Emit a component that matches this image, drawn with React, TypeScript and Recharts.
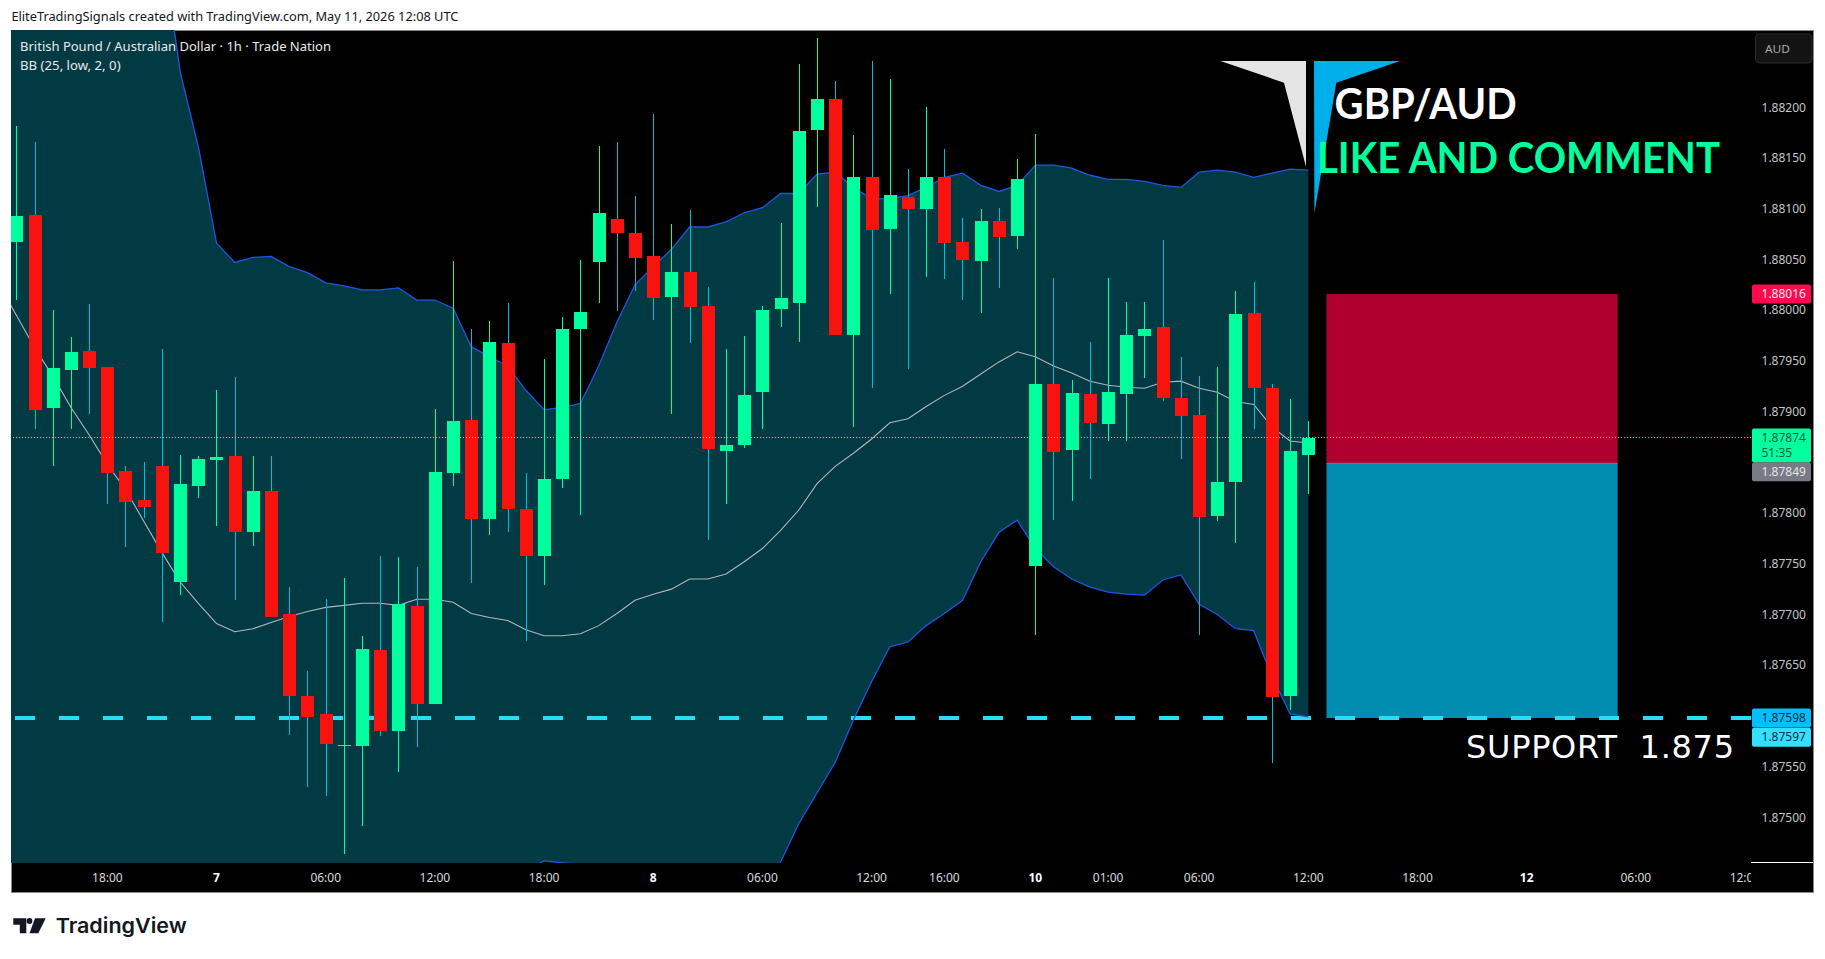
import React from "react";
import { ComposedChart, Area, Line, Bar, XAxis, YAxis, ReferenceArea, ReferenceLine } from "recharts";

// All prices below are in points of 0.00001
const highPts = [188182,188166,188000,187974,188006,187944,187846,187850,187962,187857,187856,187921,187934,187856,187856,187727,187644,187715,187736,187679,187758,187757,187747,187903,188048,187981,187989,188007,187839,187952,187993,188049,188162,188166,188113,188193,188085,188099,188023,187962,187975,188004,188086,188243,188268,188226,188173,188246,188228,188139,188200,188159,188091,188100,188101,188149,188174,188032,187931,187969,188032,188008,188008,188069,187954,187935,187944,188019,188028,187927,187912,187891];
const openPts = [188067,188094,187904,187941,187960,187944,187841,187813,187846,187732,187827,187852,187856,187781,187822,187700,187620,187602,187571,187570,187665,187585,187708,187612,187839,187892,187794,187968,187804,187758,187834,187981,188047,188090,188076,188053,188013,188038,188004,187861,187867,187919,188001,188007,188178,188208,187976,188131,188080,188112,188100,188131,188067,188048,188088,188073,187748,187927,187862,187917,187888,187917,187975,187983,187913,187897,187797,187831,187997,187923,187620,187857];
const closePts = [188093,187902,187943,187959,187943,187839,187811,187806,187761,187829,187853,187855,187781,187822,187698,187620,187599,187572,187571,187666,187585,187710,187612,187840,187891,187794,187969,187804,187758,187834,187981,187998,188096,188076,188051,188012,188038,188003,187863,187867,187916,188000,188012,188177,188208,187976,188131,188079,188114,188100,188131,188066,188049,188088,188072,188129,187927,187860,187918,187889,187919,187976,187981,187913,187896,187796,187831,187996,187923,187619,187861,187874];
const lowPts = [188010,187883,187846,187883,187898,187809,187767,187795,187693,187719,187815,187787,187714,187768,187698,187581,187530,187521,187464,187491,187580,187545,187569,187612,187827,187731,187778,187781,187674,187729,187825,187798,188007,187999,188019,187990,187898,187968,187773,187809,187864,187883,187983,187969,188102,187976,187885,187923,188016,187942,188033,188031,188010,187997,188022,188060,187680,187793,187812,187834,187871,187871,187933,187910,187853,187680,187792,187770,187883,187554,187606,187819];

// Bollinger bands start one bar before the first visible candle
const upperPts = [189700,189600,189500,189400,189300,189200,189100,189000,188800,188363,188235,188161,188066,188047,188052,188053,188043,188037,188027,188024,188020,188020,188022,188010,188010,188002,187964,187954,187945,187921,187902,187904,187908,187945,187988,188025,188043,188060,188082,188082,188087,188096,188101,188115,188115,188134,188136,188121,188110,188110,188113,188121,188131,188135,188123,188117,188123,188143,188143,188140,188133,188129,188129,188127,188123,188121,188136,188138,188136,188131,188135,188139,188138];
const middlePts = [188026,187995,187963,187935,187904,187877,187848,187823,187792,187761,187732,187711,187691,187683,187686,187692,187698,187703,187707,187709,187711,187711,187709,187715,187715,187712,187701,187697,187694,187685,187679,187679,187681,187689,187701,187714,187720,187725,187735,187735,187740,187752,187765,187783,187803,187829,187846,187859,187873,187889,187893,187905,187916,187925,187937,187949,187959,187954,187945,187938,187930,187926,187924,187923,187929,187930,187923,187919,187910,187907,187885,187871,187869];
const lowerPts = [186350,186390,186430,186470,186510,186550,186600,186650,186780,187160,187228,187261,187315,187319,187320,187330,187353,187369,187387,187393,187401,187402,187397,187420,187420,187422,187437,187439,187443,187448,187457,187455,187454,187435,187415,187403,187398,187391,187389,187389,187393,187408,187430,187456,187494,187524,187554,187596,187634,187668,187673,187689,187701,187714,187752,187781,187793,187765,187747,187735,187727,187722,187720,187719,187734,187739,187710,187700,187686,187684,187639,187602,187599];

const priceTicks = [1.882,1.8815,1.881,1.8805,1.88016,1.88,1.8795,1.879,1.87874,1.87849,1.878,1.8775,1.877,1.8765,1.87598,1.87597,1.8755,1.875];
const timeTicks = [5,11,17,23,29,35,41,47,51,56,60,65,71,77,83,89,95];
const timeLabels = ["18:00","7","06:00","12:00","18:00","8","06:00","12:00","16:00","10","01:00","06:00","12:00","18:00","12","06:00","12:00"];
const dayLabels = ["7","8","10","12"];

const riskTop = 1.88016, entry = 1.87849, supportLevel = 1.87598, lastPrice = 1.87874;
const positionStart = 72, positionEnd = 88;

const rows = upperPts.map((u, k) => {
  const i = k - 1;
  const has = i >= 0;
  return {
    x: i,
    upper: u / 1e5,
    middle: middlePts[k] / 1e5,
    lower: lowerPts[k] / 1e5,
    band: [lowerPts[k] / 1e5, u / 1e5],
    range: has ? [lowPts[i] / 1e5, highPts[i] / 1e5] : null,
    open: has ? openPts[i] / 1e5 : null,
    close: has ? closePts[i] / 1e5 : null,
  };
});

const FONT = "'Noto Sans', sans-serif";
const X_DOMAIN: [number, number] = [-0.297, 95.33];
const Y_DOMAIN: [number, number] = [1.87455, 1.882762];

const badges: Record<string, any> = {
  "1.88016": { fill: "#ff0a4f", color: "#ffe3ea", top: -9.5, h: 19, dy: 0 },
  "1.87874": { fill: "#00ff9d", color: "#0b5a44", top: -9.5, h: 34, dy: 0, extra: "51:35" },
  "1.87849": { fill: "#787b86", color: "#e3e4e8", top: -1, h: 19, dy: 8.7 },
  "1.87598": { fill: "#00bfff", color: "#05303f", top: -9.5, h: 19, dy: 0 },
  "1.87597": { fill: "#33e0ff", color: "#05303f", top: 8.7, h: 19, dy: 18.2 },
};

function PriceTick(props: any) {
  const { x, y, payload } = props;
  const v = payload.value as number;
  const label = v.toFixed(5);
  const b = badges[label];
  return (
    <g>
      {b && <rect x={x - 5} y={y + b.top} width={59} height={b.h} rx={2} fill={b.fill} />}
      <text x={x + 4.5} y={y + (b ? b.dy : 0)} dy={4.3} fontSize={12} fontFamily={FONT} fill={b ? b.color : "#c4c4c8"} textLength={44.5} lengthAdjust="spacingAndGlyphs">{label}</text>
      {b && b.extra && <text x={x + 4.5} y={y + 15} dy={4.3} fontSize={12} fontFamily={FONT} fill={b.color}>{b.extra}</text>}
    </g>
  );
}

function TimeTick(props: any) {
  const { x, y, payload } = props;
  const label = timeLabels[timeTicks.indexOf(payload.value)] ?? "";
  const bold = dayLabels.includes(label);
  const clip = payload.value === 95;
  return (
    <g>
      {clip && <clipPath id="timeClip"><rect x={x - 40} y={y - 10} width={46} height={40} /></clipPath>}
      <text x={x} y={878} dy={4.2} textAnchor="middle" fontSize={12} fontWeight={bold ? 700 : 400} fontFamily={FONT} fill={bold ? "#ffffff" : "#d8d8dc"} clipPath={clip ? "url(#timeClip)" : undefined}>{label}</text>
    </g>
  );
}

function Candle(props: any) {
  const { x, y, width, height, payload } = props;
  if (!payload || payload.range == null) return null;
  const [lo, hi] = payload.range;
  const perUnit = height / (hi - lo);
  const up = payload.close >= payload.open;
  const top = y + (hi - Math.max(payload.open, payload.close)) * perUnit;
  const bodyH = Math.max(1, Math.abs(payload.close - payload.open) * perUnit);
  const body = up ? "#00ff9d" : "#f8130e";
  const wick = up ? "#00ff9d" : "#00bcd4";
  return (
    <g shapeRendering="crispEdges">
      <rect x={x + width / 2 - 0.5} y={y} width={1} height={height} fill={wick} />
      <rect x={x} y={top} width={width} height={bodyH} fill={body} />
    </g>
  );
}

export default function App() {
  return (
    <div style={{ position: "absolute", left: 0, top: 0, width: 1825, height: 959, background: "#ffffff", overflow: "hidden" }}>
      <div style={{ position: "absolute", left: 11, top: 30, width: 1801, height: 861, background: "#000", border: "1px solid #8a8a8a" }} />
      <div style={{ position: "absolute", left: 0, top: 0 }}>
        <ComposedChart width={1825} height={959} data={rows} margin={{ top: 30, right: 12, bottom: 67, left: 11 }}>
          <XAxis dataKey="x" type="number" domain={X_DOMAIN} allowDataOverflow ticks={timeTicks} interval={0} tick={<TimeTick />} axisLine={false} tickLine={false} height={29} />
          <YAxis orientation="right" type="number" domain={Y_DOMAIN} allowDataOverflow ticks={priceTicks} interval={0} tick={<PriceTick />} axisLine={false} tickLine={false} tickMargin={0} width={62} />
          <Area dataKey="band" type="linear" fill="#023a43" fillOpacity={1} stroke="none" isAnimationActive={false} dot={false} activeDot={false} zIndex={100} />
          <ReferenceArea x1={positionStart} x2={positionEnd} y1={entry} y2={riskTop} fill="#b00030" fillOpacity={1} stroke="none" zIndex={110} />
          <ReferenceArea x1={positionStart} x2={positionEnd} y1={supportLevel} y2={entry} fill="#008db0" fillOpacity={1} stroke="none" zIndex={110} />
          <ReferenceLine segment={[{ x: positionStart, y: entry }, { x: positionEnd, y: entry }]} stroke="#787b86" strokeWidth={1} zIndex={115} />
          <ReferenceLine y={supportLevel} stroke="#2bdcf5" strokeWidth={4} strokeDasharray="20 24" zIndex={120} />
          <Line dataKey="middle" type="linear" stroke="#b2b5be" strokeWidth={1.1} dot={false} activeDot={false} isAnimationActive={false} zIndex={130} />
          <Line dataKey="upper" type="linear" stroke="#1f56e0" strokeWidth={1.3} dot={false} activeDot={false} isAnimationActive={false} zIndex={130} />
          <Line dataKey="lower" type="linear" stroke="#1f56e0" strokeWidth={1.3} dot={false} activeDot={false} isAnimationActive={false} zIndex={130} />
          <Bar dataKey="range" barSize={13} shape={<Candle />} isAnimationActive={false} zIndex={140} />
          <ReferenceLine y={lastPrice} stroke="#00ff9d" strokeWidth={1} strokeDasharray="1 2" shapeRendering="crispEdges" zIndex={150} />
        </ComposedChart>
      </div>
      <svg width={1825} height={959} style={{ position: "absolute", left: 0, top: 0, pointerEvents: "none" }}>
        <text x={11.4} y={21} fontSize={12} fontFamily={FONT} fill="#131722" textLength={447} lengthAdjust="spacingAndGlyphs">EliteTradingSignals created with TradingView.com, May 11, 2026 12:08 UTC</text>
        <text x={20} y={51} fontSize={12} fontFamily={FONT} fill="#e8e8ec" textLength={311} lengthAdjust="spacingAndGlyphs">British Pound / Australian Dollar · 1h · Trade Nation</text>
        <text x={20} y={70} fontSize={12} fontFamily={FONT} fill="#e8e8ec" textLength={100.6} lengthAdjust="spacingAndGlyphs">BB (25, low, 2, 0)</text>
        <polygon points="1220.4,61 1306,61 1306,166.7 1284,82.7" fill="#e5e5e5" />
        <polygon points="1314,61 1400,61 1336.3,82.7 1314.4,213.3" fill="#00aeea" />
        <text x={1334.6} y={119.3} fontSize={42} fontWeight={700} fontFamily="Lato, sans-serif" fill="#ffffff" textLength={182} lengthAdjust="spacingAndGlyphs">GBP/AUD</text>
        <text x={1317} y={172.7} fontSize={42} fontWeight={700} fontFamily="Lato, sans-serif" fill="#00ff9d" textLength={403} lengthAdjust="spacingAndGlyphs">LIKE AND COMMENT</text>
        <text x={1466} y={758.3} fontSize={32} fontFamily="'DejaVu Sans', sans-serif" fill="#ffffff" textLength={268} lengthAdjust="spacing" xmlSpace="preserve">SUPPORT  1.875</text>
        <rect x={1755.5} y={34} width={56.5} height={29} rx={4} fill="#131313" stroke="#2a2a2a" />
        <text x={1765} y={53} fontSize={11.5} fontFamily={FONT} fill="#a8a8ad" textLength={25} lengthAdjust="spacingAndGlyphs">AUD</text>
        <line x1={1751} x2={1813} y1={862.5} y2={862.5} stroke="#ffffff" />
        <path d="M13.3 918.3 H26.3 V933.3 H19.8 V924.8 H13.3 Z" fill="#131722" />
        <circle cx={29.5} cy={921} r={2.9} fill="#131722" />
        <polygon points="35,918.3 45.7,918.3 38.3,933.3 29.5,933.3" fill="#131722" />
        <text x={55.7} y={933.3} fontSize={20.6} fontWeight={600} fontFamily="Inter, sans-serif" fill="#131722" textLength={131} lengthAdjust="spacingAndGlyphs">TradingView</text>
      </svg>
    </div>
  );
}
